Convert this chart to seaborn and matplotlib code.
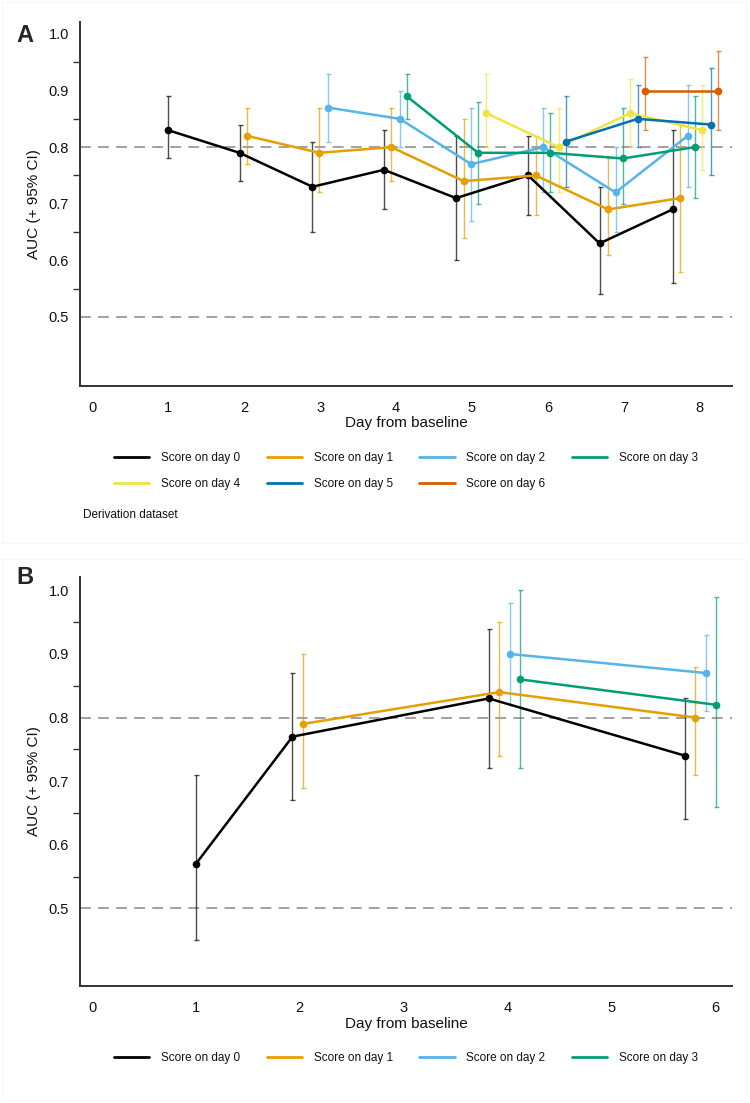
import matplotlib
matplotlib.use("Agg")
import matplotlib.pyplot as plt
import seaborn as sns
import pandas as pd
from matplotlib.lines import Line2D
from matplotlib.patches import Rectangle
from matplotlib.ticker import FixedLocator

# Okabe-Ito colours, one per score day
score_colors = ["#000000", "#E69F00", "#56B4E9", "#009E73", "#F0E442", "#0072B2", "#D55E00"]
score_labels = ["Score on day 0", "Score on day 1", "Score on day 2", "Score on day 3",
                "Score on day 4", "Score on day 5", "Score on day 6"]

# ---- Panel A: derivation dataset (x is jittered day, auc, lower/upper 95% CI)
a_day0_x = [1.00, 1.94, 2.90, 3.84, 4.79, 5.74, 6.68, 7.64]
a_day0_auc = [0.83, 0.79, 0.73, 0.76, 0.71, 0.75, 0.63, 0.69]
a_day0_lo = [0.78, 0.74, 0.65, 0.69, 0.60, 0.68, 0.54, 0.56]
a_day0_hi = [0.89, 0.84, 0.81, 0.83, 0.82, 0.82, 0.73, 0.83]

a_day1_x = [2.04, 2.99, 3.94, 4.89, 5.84, 6.79, 7.74]
a_day1_auc = [0.82, 0.79, 0.80, 0.74, 0.75, 0.69, 0.71]
a_day1_lo = [0.77, 0.72, 0.74, 0.64, 0.68, 0.61, 0.58]
a_day1_hi = [0.87, 0.87, 0.87, 0.85, 0.82, 0.78, 0.84]

a_day2_x = [3.10, 4.05, 4.99, 5.94, 6.89, 7.84]
a_day2_auc = [0.87, 0.85, 0.77, 0.80, 0.72, 0.82]
a_day2_lo = [0.81, 0.80, 0.67, 0.72, 0.65, 0.73]
a_day2_hi = [0.93, 0.90, 0.87, 0.87, 0.80, 0.91]

a_day3_x = [4.14, 5.08, 6.03, 6.99, 7.93]
a_day3_auc = [0.89, 0.79, 0.79, 0.78, 0.80]
a_day3_lo = [0.85, 0.70, 0.72, 0.70, 0.71]
a_day3_hi = [0.93, 0.88, 0.86, 0.87, 0.89]

a_day4_x = [5.19, 6.14, 7.08, 8.03]
a_day4_auc = [0.86, 0.80, 0.86, 0.83]
a_day4_lo = [0.80, 0.72, 0.80, 0.76]
a_day4_hi = [0.93, 0.87, 0.92, 0.91]

a_day5_x = [6.24, 7.18, 8.14]
a_day5_auc = [0.81, 0.85, 0.84]
a_day5_lo = [0.73, 0.80, 0.75]
a_day5_hi = [0.89, 0.91, 0.94]

a_day6_x = [7.28, 8.24]
a_day6_auc = [0.90, 0.90]
a_day6_lo = [0.83, 0.83]
a_day6_hi = [0.96, 0.97]

# ---- Panel B
b_day0_x = [1.00, 1.93, 3.82, 5.71]
b_day0_auc = [0.57, 0.77, 0.83, 0.74]
b_day0_lo = [0.45, 0.67, 0.72, 0.64]
b_day0_hi = [0.71, 0.87, 0.94, 0.83]

b_day1_x = [2.03, 3.92, 5.81]
b_day1_auc = [0.79, 0.84, 0.80]
b_day1_lo = [0.69, 0.74, 0.71]
b_day1_hi = [0.90, 0.95, 0.88]

b_day2_x = [4.02, 5.91]
b_day2_auc = [0.90, 0.87]
b_day2_lo = [0.82, 0.81]
b_day2_hi = [0.98, 0.93]

b_day3_x = [4.12, 6.01]
b_day3_auc = [0.86, 0.82]
b_day3_lo = [0.72, 0.66]
b_day3_hi = [1.00, 0.99]

a_series = [
    (a_day0_x, a_day0_auc, a_day0_lo, a_day0_hi),
    (a_day1_x, a_day1_auc, a_day1_lo, a_day1_hi),
    (a_day2_x, a_day2_auc, a_day2_lo, a_day2_hi),
    (a_day3_x, a_day3_auc, a_day3_lo, a_day3_hi),
    (a_day4_x, a_day4_auc, a_day4_lo, a_day4_hi),
    (a_day5_x, a_day5_auc, a_day5_lo, a_day5_hi),
    (a_day6_x, a_day6_auc, a_day6_lo, a_day6_hi),
]
b_series = [
    (b_day0_x, b_day0_auc, b_day0_lo, b_day0_hi),
    (b_day1_x, b_day1_auc, b_day1_lo, b_day1_hi),
    (b_day2_x, b_day2_auc, b_day2_lo, b_day2_hi),
    (b_day3_x, b_day3_auc, b_day3_lo, b_day3_hi),
]


def to_frame(series):
    rows = []
    for i, (xs, auc, lo, hi) in enumerate(series):
        for x, a, l, h in zip(xs, auc, lo, hi):
            rows.append({"score": score_labels[i], "day": x, "auc": a, "lo": l, "hi": h})
    return pd.DataFrame(rows)


sns.set_theme(style="white")
plt.rcParams["font.family"] = ["Liberation Sans", "DejaVu Sans"]

AXIS_COL = "#333333"


def draw_panel(ax, series, n_days, xlim):
    df = to_frame(series)
    n = len(series)
    labels = score_labels[:n]
    pal = dict(zip(labels, score_colors[:n]))

    ax.axhline(0.8, color="#9a9a9a", lw=1.3, ls=(0, (6, 4)), zorder=0.5)
    ax.axhline(0.5, color="#9a9a9a", lw=1.3, ls=(0, (6, 4)), zorder=0.5)

    for lab in labels:
        d = df[df["score"] == lab]
        ax.errorbar(d["day"], d["auc"], yerr=[d["auc"] - d["lo"], d["hi"] - d["auc"]],
                    fmt="none", ecolor=pal[lab], elinewidth=1.0, capsize=1.8,
                    capthick=1.0, alpha=0.7, zorder=1)

    sns.lineplot(data=df, x="day", y="auc", hue="score", hue_order=labels, palette=pal,
                 estimator=None, sort=False, marker="o", markersize=5.5,
                 markeredgewidth=0, linewidth=1.8, legend=False, ax=ax, zorder=2)

    ax.set_xlim(*xlim)
    ax.set_ylim(0.378, 1.021)
    ax.set_xticks(range(n_days + 1))
    ax.yaxis.set_major_locator(FixedLocator([0.5, 0.6, 0.7, 0.8, 0.9, 1.0]))
    ax.yaxis.set_minor_locator(FixedLocator([0.55, 0.65, 0.75, 0.85, 0.95]))
    ax.set_yticklabels(["0.5", "0.6", "0.7", "0.8", "0.9", "1.0"])

    for s in ["top", "right"]:
        ax.spines[s].set_visible(False)
    for s in ["left", "bottom"]:
        ax.spines[s].set_color(AXIS_COL)
        ax.spines[s].set_linewidth(1.4)
    ax.tick_params(axis="both", which="both", direction="out", color=AXIS_COL,
                   width=1.0, length=5, labelsize=10.5, labelcolor="#111111")
    ax.tick_params(axis="x", pad=5.5)
    ax.tick_params(axis="y", pad=3)
    ax.tick_params(axis="y", which="minor", left=True)

    ax.set_xlabel("Day from baseline", fontsize=11, color="#111111")
    ax.set_ylabel("AUC (+ 95% CI)", fontsize=11, color="#111111")
    ax.yaxis.set_label_coords(-0.06, 0.5)


def legend_handles(order):
    return [Line2D([0], [0], color=score_colors[i], lw=2.0) for i in order]


fig = plt.figure(figsize=(7.5, 11.03), dpi=100)

# faint panel frames
fig.patches.append(Rectangle((2 / 750, 1 - 543 / 1103), 744 / 750, 541 / 1103,
                             transform=fig.transFigure, fill=False, ec="#f7f7f7", lw=0.8))
fig.patches.append(Rectangle((2 / 750, 1 - 1100 / 1103), 744 / 750, 541 / 1103,
                             transform=fig.transFigure, fill=False, ec="#f7f7f7", lw=0.8))

ax_a = fig.add_axes([0.1067, 0.650, 0.869, 0.330])
draw_panel(ax_a, a_series, 8, (-0.16, 8.42))
ax_a.xaxis.set_label_coords(0.5, -0.083)

ax_b = fig.add_axes([0.1067, 0.1061, 0.869, 0.3708])
draw_panel(ax_b, b_series, 6, (-0.116, 6.16))
ax_b.xaxis.set_label_coords(0.5, -0.075)

leg_kw = dict(ncol=4, frameon=False, fontsize=8.5, handlelength=3.0, handletextpad=1.0,
              columnspacing=2.22, labelspacing=1.2, borderpad=0, borderaxespad=0,
              loc="upper left", labelcolor="#111111")
# matplotlib fills legend columns first, so interleave to read row by row
a_order = [0, 4, 1, 5, 2, 6, 3]
fig.legend(legend_handles(a_order), [score_labels[i] for i in a_order],
           bbox_to_anchor=(114 / 750, 1 - 452 / 1103), **leg_kw)
b_order = [0, 1, 2, 3]
fig.legend(legend_handles(b_order), [score_labels[i] for i in b_order],
           bbox_to_anchor=(114 / 750, 1 - 1052 / 1103), **leg_kw)

fig.text(83 / 750, 1 - 515 / 1103, "Derivation dataset", fontsize=8.5, va="center",
         ha="left", color="#111111")

fig.text(16 / 750, 1 - 35 / 1103, "A", fontsize=17, fontweight="bold", va="center", ha="left")
fig.text(16 / 750, 1 - 577 / 1103, "B", fontsize=17, fontweight="bold", va="center", ha="left")

fig.savefig("out.png", dpi=100)
